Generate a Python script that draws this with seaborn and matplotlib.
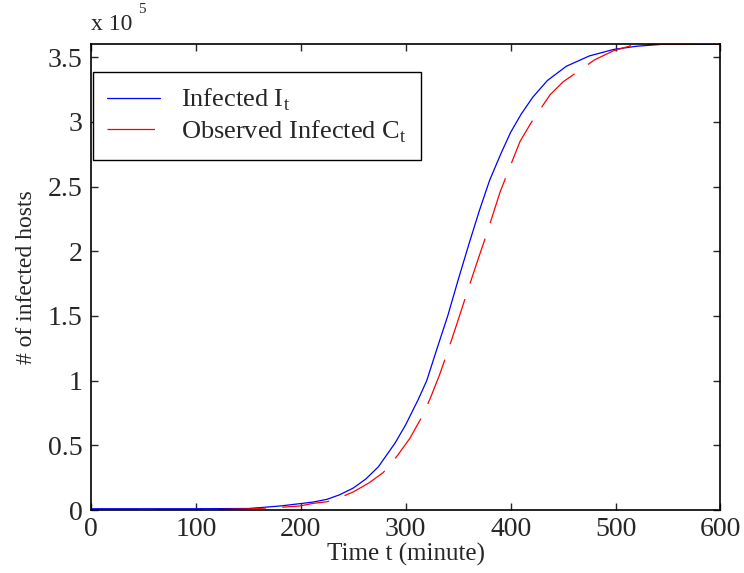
import matplotlib
matplotlib.use("Agg")
import numpy as np
import pandas as pd
import seaborn as sns
from matplotlib import pyplot as plt

# values (time in minutes, infected hosts in units of 1e5)
infected_t = [0, 50, 100, 150, 160, 180, 200, 212, 225, 237, 250, 262, 274, 290,
              300, 312, 320, 329.5, 340, 350, 360, 370, 380, 391, 400, 410, 421,
              435, 453, 475, 498, 520, 545, 600]
infected_v = [0.01, 0.01, 0.01, 0.012, 0.018, 0.031, 0.05, 0.062, 0.083, 0.118,
              0.17, 0.24, 0.335, 0.52, 0.66, 0.856, 1.0, 1.24, 1.5, 1.78, 2.05,
              2.31, 2.55, 2.76, 2.92, 3.06, 3.19, 3.32, 3.43, 3.51, 3.56, 3.585,
              3.60, 3.60]

observed_t = [0, 100, 130, 155, 180, 199, 212, 225, 237, 250, 265, 278.6, 292,
              304, 314, 323, 332, 340.6, 350, 360, 369, 377, 390, 402.6, 409,
              420, 437.6, 450, 466, 480, 498, 515, 530, 600]
observed_v = [0.0, 0.0, 0.005, 0.01, 0.021, 0.031, 0.052, 0.064, 0.095, 0.14,
              0.21, 0.29, 0.42, 0.555, 0.70, 0.856, 1.04, 1.24, 1.47, 1.72, 1.94,
              2.13, 2.46, 2.72, 2.85, 3.0, 3.21, 3.31, 3.40, 3.48, 3.55, 3.59,
              3.60, 3.60]

x_ticks = [0, 100, 200, 300, 400, 500, 600]
y_ticks = [0, 0.5, 1, 1.5, 2, 2.5, 3, 3.5]

sns.set_style("ticks")
plt.rcParams["font.family"] = ["Liberation Serif", "DejaVu Serif"]
plt.rcParams["mathtext.fontset"] = "custom"
plt.rcParams["mathtext.rm"] = "Liberation Serif"
plt.rcParams["xtick.direction"] = "in"
plt.rcParams["ytick.direction"] = "in"

df_inf = pd.DataFrame({"t": infected_t, "v": infected_v})
df_obs = pd.DataFrame({"t": observed_t, "v": observed_v})

fig = plt.figure(figsize=(7.44, 5.73), dpi=100)
ax = fig.add_axes([0.1223, 0.1099, 0.8461, 0.8128])

sns.lineplot(data=df_inf, x="t", y="v", ax=ax, color=(0, 0, 1), linewidth=0.9,
             label="Infected I$_\\mathrm{t}$")
sns.lineplot(data=df_obs, x="t", y="v", ax=ax, color=(1, 0, 0), linewidth=0.9,
             linestyle=(0, (38, 13)), label="Observed Infected C$_\\mathrm{t}$")

ax.set_xlim(0, 600)
ax.set_ylim(0, 3.6)
ax.set_xticks(x_ticks)
ax.set_yticks(y_ticks)
ax.set_xticklabels([str(v) for v in x_ticks], fontsize=20)
ax.set_yticklabels([f"{v:g}" for v in y_ticks], fontsize=20)
ax.tick_params(top=True, right=True, length=5, width=1)
ax.tick_params(axis="x", pad=5)
ax.tick_params(axis="y", pad=6)
for s in ax.spines.values():
    s.set_linewidth(1.2)
    s.set_color("black")

ax.set_xlabel("Time t (minute)", fontsize=18, labelpad=1)
ax.set_ylabel("# of infected hosts", fontsize=17, labelpad=8)

ax.text(0.0, 1.02, "x 10", transform=ax.transAxes, fontsize=17,
        ha="left", va="bottom")
ax.text(0.074, 1.06, "5", transform=ax.transAxes, fontsize=11,
        ha="left", va="bottom")

leg = ax.legend(loc="upper left", bbox_to_anchor=(0.003, 0.94), borderaxespad=0,
                fontsize=19, frameon=True, fancybox=False, handlelength=2.0,
                handletextpad=0.8, labelspacing=0.2, borderpad=0.55)
leg.get_frame().set_edgecolor("black")
leg.get_frame().set_linewidth(1.0)
leg.get_frame().set_alpha(1)

fig.savefig("out.png", dpi=100)
